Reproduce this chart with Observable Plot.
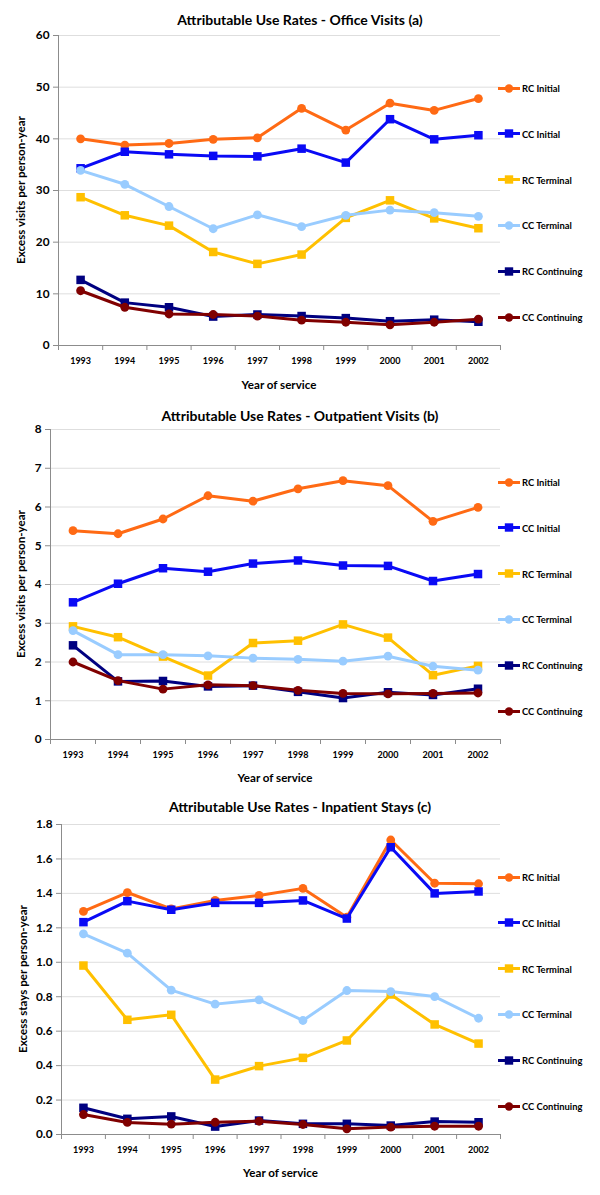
<!DOCTYPE html>
<html>
<head>
<meta charset="utf-8">
<script src="https://cdn.jsdelivr.net/npm/d3@7"></script>
<script src="https://cdn.jsdelivr.net/npm/@observablehq/plot@0.6"></script>
<style>
  body { margin: 0; background: #fff; }
  #root { position: relative; width: 600px; height: 1195px; overflow: hidden; background: #fff;
          font-family: Lato, "Open Sans", sans-serif; color: #000; }
  .title { position: absolute; left: 0; width: 600px; text-align: center; font-weight: bold;
           font-size: 14px; transform: translateY(-50%); white-space: nowrap; }
  .panel { position: absolute; left: 0; }
  .ylab { position: absolute; font-weight: bold; font-size: 11.6px; white-space: nowrap;
          transform: translate(-50%, -50%) rotate(-90deg); }
  .xlab { position: absolute; font-weight: bold; font-size: 11.6px; white-space: nowrap;
          transform: translate(-50%, -50%); }
  .leg { position: absolute; display: flex; align-items: center; font-size: 9.4px; font-weight: bold;
         white-space: nowrap; transform: translateY(-50%); }
  .leg svg { margin-right: 2px; }
</style>
</head>
<body>
<div id="root"></div>
<script>
// ---------- data ----------
const years = [1993, 1994, 1995, 1996, 1997, 1998, 1999, 2000, 2001, 2002];
const seriesNames = ["RC Initial", "CC Initial", "RC Terminal", "CC Terminal", "RC Continuing", "CC Continuing"];
const seriesColors = ["#FF6A14", "#0A0AF5", "#FFC000", "#99CCFF", "#000080", "#800000"];
const seriesSymbols = ["circle", "square", "square", "circle", "square", "circle"];

// (a) Office visits
const officeRCInitial    = [40.0, 38.8, 39.1, 39.9, 40.2, 45.9, 41.7, 46.9, 45.5, 47.8];
const officeCCInitial    = [34.3, 37.5, 37.0, 36.7, 36.6, 38.1, 35.4, 43.8, 39.9, 40.7];
const officeRCTerminal   = [28.7, 25.2, 23.2, 18.1, 15.8, 17.6, 24.7, 28.1, 24.6, 22.7];
const officeCCTerminal   = [33.9, 31.2, 26.9, 22.6, 25.3, 23.0, 25.2, 26.2, 25.7, 25.0];
const officeRCContinuing = [12.7, 8.3, 7.4, 5.6, 6.0, 5.7, 5.3, 4.7, 5.0, 4.6];
const officeCCContinuing = [10.6, 7.4, 6.1, 6.0, 5.7, 4.9, 4.5, 4.0, 4.5, 5.1];

// (b) Outpatient visits
const outRCInitial    = [5.39, 5.31, 5.69, 6.29, 6.15, 6.47, 6.68, 6.55, 5.63, 5.99];
const outCCInitial    = [3.54, 4.02, 4.42, 4.33, 4.54, 4.62, 4.49, 4.48, 4.09, 4.27];
const outRCTerminal   = [2.92, 2.64, 2.14, 1.65, 2.49, 2.55, 2.97, 2.63, 1.66, 1.90];
const outCCTerminal   = [2.81, 2.19, 2.19, 2.16, 2.10, 2.07, 2.02, 2.15, 1.89, 1.79];
const outRCContinuing = [2.43, 1.50, 1.51, 1.37, 1.39, 1.23, 1.07, 1.22, 1.15, 1.31];
const outCCContinuing = [2.00, 1.52, 1.30, 1.41, 1.39, 1.27, 1.19, 1.18, 1.19, 1.20];

// (c) Inpatient stays
const inRCInitial    = [1.295, 1.405, 1.31, 1.359, 1.388, 1.429, 1.262, 1.71, 1.459, 1.456];
const inCCInitial    = [1.233, 1.355, 1.305, 1.345, 1.345, 1.359, 1.254, 1.668, 1.40, 1.411];
const inRCTerminal   = [0.981, 0.666, 0.695, 0.319, 0.397, 0.445, 0.546, 0.813, 0.639, 0.528];
const inCCTerminal   = [1.165, 1.053, 0.838, 0.757, 0.782, 0.662, 0.836, 0.830, 0.801, 0.675];
const inRCContinuing = [0.155, 0.091, 0.105, 0.046, 0.081, 0.062, 0.062, 0.052, 0.075, 0.071];
const inCCContinuing = [0.116, 0.070, 0.060, 0.071, 0.077, 0.058, 0.033, 0.043, 0.048, 0.048];

const titles = [
  "Attributable Use Rates - Office Visits (a)",
  "Attributable Use Rates - Outpatient Visits (b)",
  "Attributable Use Rates - Inpatient Stays (c)"
];
const yLabels = ["Excess visits per person-year", "Excess visits per person-year", "Excess stays per person-year"];
const xLabel = "Year of service";
const yTicksA = [0, 10, 20, 30, 40, 50, 60];
const yTicksB = [0, 1, 2, 3, 4, 5, 6, 7, 8];
const yTicksC = [0, 0.2, 0.4, 0.6, 0.8, 1.0, 1.2, 1.4, 1.6, 1.8];

// ---------- layout ----------
const W = 600;
const panels = [
  { title: titles[0], yLabel: yLabels[0], yTicks: yTicksA, fmt: d => String(d),
    values: [officeRCInitial, officeCCInitial, officeRCTerminal, officeCCTerminal, officeRCContinuing, officeCCContinuing],
    top: 0, height: 395, mt: 35, mb: 50, ml: 58, mr: 100, titleY: 19, yLabX: 20, xLabY: 384, legY0: 88 },
  { title: titles[1], yLabel: yLabels[1], yTicks: yTicksB, fmt: d => String(d),
    values: [outRCInitial, outCCInitial, outRCTerminal, outCCTerminal, outRCContinuing, outCCContinuing],
    top: 390, height: 395, mt: 39, mb: 46, ml: 50, mr: 100, titleY: 415, yLabX: 20, xLabY: 777, legY0: 482 },
  { title: titles[2], yLabel: yLabels[2], yTicks: yTicksC, fmt: d => d.toFixed(1),
    values: [inRCInitial, inCCInitial, inRCTerminal, inCCTerminal, inRCContinuing, inCCContinuing],
    top: 785, height: 410, mt: 39, mb: 61, ml: 61, mr: 100, titleY: 806, yLabX: 22, xLabY: 1172, legY0: 877 }
];
const legStep = 45.8;
const axisGray = "#8c8c8c";
const gridGray = "#dedede";

const root = document.getElementById("root");

function legendGlyph(color, symbol) {
  const ns = "http://www.w3.org/2000/svg";
  const s = document.createElementNS(ns, "svg");
  s.setAttribute("width", 22); s.setAttribute("height", 10);
  const l = document.createElementNS(ns, "line");
  l.setAttribute("x1", 0); l.setAttribute("x2", 22); l.setAttribute("y1", 5); l.setAttribute("y2", 5);
  l.setAttribute("stroke", color); l.setAttribute("stroke-width", 3);
  s.appendChild(l);
  let m;
  if (symbol === "circle") {
    m = document.createElementNS(ns, "circle");
    m.setAttribute("cx", 11); m.setAttribute("cy", 5); m.setAttribute("r", 4.2);
  } else {
    m = document.createElementNS(ns, "rect");
    m.setAttribute("x", 6.8); m.setAttribute("y", 0.8); m.setAttribute("width", 8.4); m.setAttribute("height", 8.4);
  }
  m.setAttribute("fill", color);
  s.appendChild(m);
  return s;
}

panels.forEach(p => {
  const data = seriesNames.flatMap((s, si) => years.map((yr, i) => ({series: s, year: yr, value: p.values[si][i]})));
  const yMax = p.yTicks[p.yTicks.length - 1];
  const bw = (W - p.ml - p.mr) / years.length;

  const marks = [
    Plot.gridY(p.yTicks, {stroke: gridGray, strokeOpacity: 1, strokeWidth: 1}),
    Plot.ruleY([0], {stroke: axisGray}),
    Plot.ruleX([years[0]], {x: d => d, dx: -bw / 2, y1: 0, y2: yMax, stroke: axisGray}),
    Plot.ruleX(years, {x: d => d, dx: -bw / 2, y1: 0, y2: 0, insetBottom: -5, stroke: axisGray}),
    Plot.ruleX([years[years.length - 1]], {x: d => d, dx: bw / 2, y1: 0, y2: 0, insetBottom: -5, stroke: axisGray}),
    Plot.axisY({ticks: p.yTicks, tickFormat: p.fmt, tickSize: 5, tickPadding: 4, stroke: axisGray, fill: "#000",
                fontSize: 11.8, fontWeight: "bold", label: null}),
    Plot.axisX({tickSize: 0, tickPadding: 12, fill: "#000", fontSize: 9, fontWeight: "bold", label: null,
                tickFormat: d => String(d)})
  ];
  seriesNames.forEach((s, si) => {
    const rows = data.filter(d => d.series === s);
    marks.push(Plot.line(rows, {x: "year", y: "value", stroke: seriesColors[si], strokeWidth: 3}));
    marks.push(Plot.dot(rows, {x: "year", y: "value", fill: seriesColors[si], stroke: "none",
                               symbol: () => seriesSymbols[si], r: seriesSymbols[si] === "circle" ? 4.4 : 4.8}));
  });

  const chart = Plot.plot({
    width: W, height: p.height,
    marginTop: p.mt, marginBottom: p.mb, marginLeft: p.ml, marginRight: p.mr,
    style: {fontFamily: "Lato, 'Open Sans', sans-serif", background: "transparent", overflow: "visible"},
    x: {type: "band", domain: years, padding: 0, round: false, axis: null},
    y: {domain: [0, yMax], axis: null},
    symbol: {type: "identity"},
    marks
  });

  const holder = document.createElement("div");
  holder.className = "panel";
  holder.style.top = p.top + "px";
  holder.appendChild(chart);
  root.appendChild(holder);

  const t = document.createElement("div");
  t.className = "title"; t.textContent = p.title; t.style.top = p.titleY + "px";
  root.appendChild(t);

  const yl = document.createElement("div");
  yl.className = "ylab"; yl.textContent = p.yLabel;
  yl.style.left = p.yLabX + "px";
  yl.style.top = (p.top + p.mt + (p.height - p.mt - p.mb) / 2) + "px";
  root.appendChild(yl);

  const xl = document.createElement("div");
  xl.className = "xlab"; xl.textContent = xLabel;
  xl.style.left = (p.ml + (W - p.ml - p.mr) / 2) + "px";
  xl.style.top = p.xLabY + "px";
  root.appendChild(xl);

  seriesNames.forEach((s, si) => {
    const it = document.createElement("div");
    it.className = "leg";
    it.style.left = "498px";
    it.style.top = (p.legY0 + si * legStep) + "px";
    it.appendChild(legendGlyph(seriesColors[si], seriesSymbols[si]));
    const sp = document.createElement("span"); sp.textContent = s;
    it.appendChild(sp);
    root.appendChild(it);
  });
});
</script>
</body>
</html>
